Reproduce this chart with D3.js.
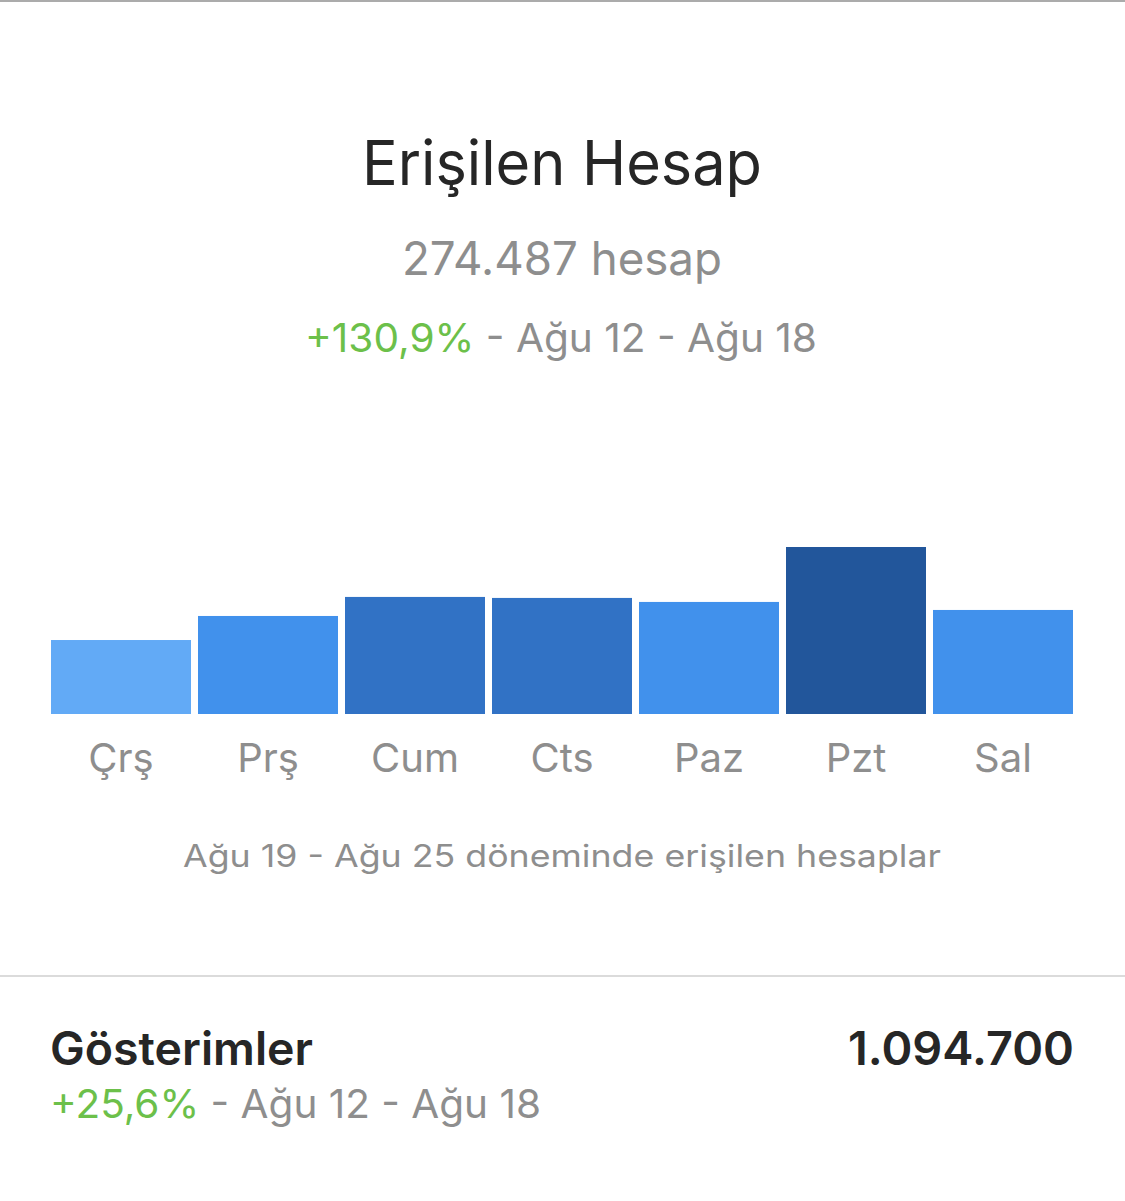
<!DOCTYPE html>
<html><head><meta charset="utf-8">
<script src="https://cdn.jsdelivr.net/npm/d3@7"></script>
<style>html,body{margin:0;padding:0;background:#fff;}svg{display:block;}</style>
</head><body>
<script>
const days = ["Çrş","Prş","Cum","Cts","Paz","Pzt","Sal"];
const reach = [44.3, 58.7, 70.1, 69.5, 67.1, 100, 62.3];
const title = "Erişilen Hesap";
const totalText = "274.487 hesap";
const changeText = "+130,9%";
const periodText = " - Ağu 12 - Ağu 18";
const caption = "Ağu 19 - Ağu 25 döneminde erişilen hesaplar";
const impLabel = "Gösterimler";
const impValue = "1.094.700";
const impChange = "+25,6%";

const W = 1125, H = 1201;
const FONT = "Inter, 'Noto Sans', sans-serif";
const svg = d3.select("body").append("svg").attr("width", W).attr("height", H);

svg.append("rect").attr("x",0).attr("y",0).attr("width",W).attr("height",2).attr("fill","#ababab");
svg.append("rect").attr("x",0).attr("y",975).attr("width",W).attr("height",2).attr("fill","#dbdbdb");

function fit(sel, w){ sel.attr("textLength", w).attr("lengthAdjust","spacingAndGlyphs"); return sel; }

fit(svg.append("text").attr("x",562).attr("y",185).attr("text-anchor","middle")
  .attr("font-family",FONT).attr("font-size",62).attr("fill","#262626").text(title), 400);
fit(svg.append("text").attr("x",562).attr("y",275).attr("text-anchor","middle")
  .attr("font-family",FONT).attr("font-size",46).attr("fill","#8e8e8e").text(totalText), 320);

const t3 = svg.append("text").attr("x",561).attr("y",352).attr("text-anchor","middle")
  .attr("font-family",FONT).attr("font-size",40);
t3.append("tspan").attr("fill","#6cc04a").text(changeText);
t3.append("tspan").attr("fill","#8e8e8e").text(periodText);
fit(t3, 512);

const x = d3.scaleBand().domain(days).range([51, 1073]).paddingInner(7/147).paddingOuter(0);
const y = d3.scaleLinear().domain([0, d3.max(reach)]).range([714, 547]);
const color = d3.scaleThreshold().domain([50, 68, 90]).range(["#62aaf6","#4191ec","#3172c5","#22569b"]);

svg.append("g").selectAll("rect").data(days).join("rect")
  .attr("x", d => x(d)).attr("width", x.bandwidth())
  .attr("y", (d,i) => y(reach[i])).attr("height", (d,i) => y(0) - y(reach[i]))
  .attr("fill", (d,i) => color(reach[i]));

const axis = svg.append("g").attr("transform","translate(0,714)")
  .call(d3.axisBottom(x).tickSize(0).tickPadding(58));
axis.select(".domain").remove();
axis.selectAll("text").attr("font-family",FONT).attr("font-size",40).attr("fill","#8e8e8e").attr("dy",0);

fit(svg.append("text").attr("x",562).attr("y",867).attr("text-anchor","middle")
  .attr("font-family",FONT).attr("font-size",31).attr("fill","#8e8e8e").text(caption), 758);

fit(svg.append("text").attr("x",50).attr("y",1065).attr("font-family",FONT)
  .attr("font-size",46).attr("font-weight",600).attr("fill","#262626").text(impLabel), 263);
fit(svg.append("text").attr("x",1074).attr("y",1065).attr("text-anchor","end").attr("font-family",FONT)
  .attr("font-size",46).attr("font-weight",600).attr("fill","#262626").text(impValue), 226);
const t4 = svg.append("text").attr("x",50).attr("y",1118).attr("font-family",FONT).attr("font-size",40);
t4.append("tspan").attr("fill","#6cc04a").text(impChange);
t4.append("tspan").attr("fill","#8e8e8e").text(periodText);
fit(t4, 491);
</script>
</body></html>
